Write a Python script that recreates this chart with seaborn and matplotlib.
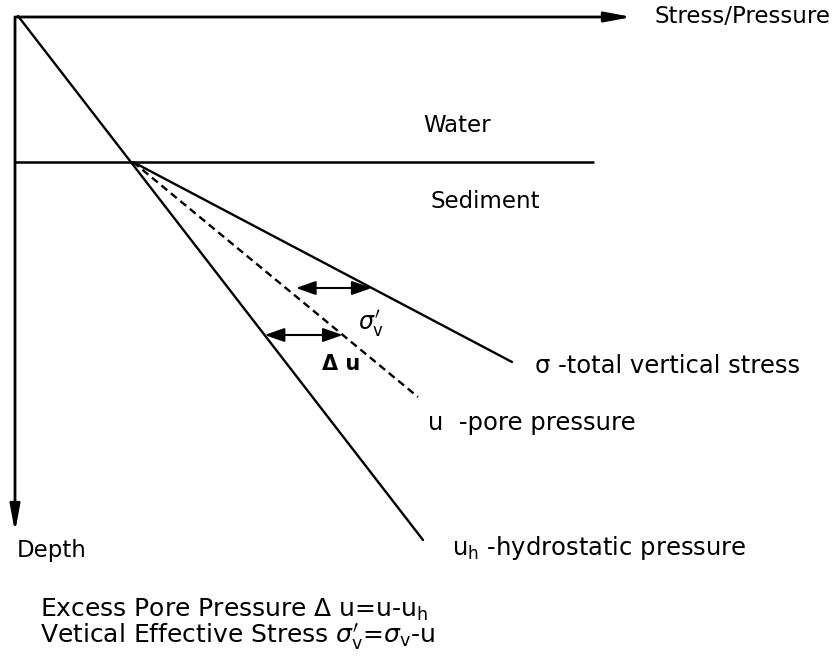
import matplotlib

matplotlib.use("Agg")
import matplotlib.pyplot as plt
import numpy as np
import pandas as pd
import seaborn as sns

# schematic coordinates (stress to the right, depth downwards)
seabed_depth = 162
seabed_stress = [15, 593]
origin = (16, 17)
stress_axis_end = 632
depth_axis_end = 532

hydro_stress = [18, 423]
hydro_depth = [16, 540]
total_stress = [133, 512]
total_depth = [162, 362]
pore_stress = [133, 418]
pore_depth = [162, 397]

# depths of the two bracket arrows
sigma_arrow_depth = 288
du_arrow_depth = 335

curve_names = ["hydrostatic", "total", "pore"]

sns.set_theme(style="white")
plt.rcParams["font.family"] = ["DejaVu Sans"]
plt.rcParams["mathtext.fontset"] = "dejavusans"
plt.rcParams["text.color"] = "black"

df = pd.DataFrame({
    "stress": hydro_stress + total_stress + pore_stress,
    "depth": hydro_depth + total_depth + pore_depth,
    "curve": [c for c in curve_names for _ in range(2)],
})

fig = plt.figure(figsize=(8.4, 6.7), dpi=100)
ax = fig.add_axes([0, 0, 1, 1])

sns.lineplot(
    data=df, x="stress", y="depth", hue="curve", style="curve",
    palette={c: "black" for c in curve_names},
    dashes={"hydrostatic": "", "total": "", "pore": (3.2, 2.0)},
    sort=False, estimator=None, legend=False, linewidth=1.7, ax=ax,
)

# water / sediment boundary
ax.plot(seabed_stress, [seabed_depth, seabed_depth], color="black", lw=1.8)

# axes with arrows
axis_style = dict(arrowstyle="-|>,head_length=1.6,head_width=0.3", color="black",
                  lw=2.0, mutation_scale=10, shrinkA=0, shrinkB=0)
ax.annotate("", xy=(stress_axis_end, origin[1]), xytext=origin, arrowprops=axis_style)
ax.annotate("", xy=(origin[0] - 1, depth_axis_end), xytext=(origin[0] - 1, origin[1]),
            arrowprops=axis_style)


# bracket arrows between the curves
def at_depth(stress, depth, d):
    return np.interp(d, depth, stress)


bracket = dict(arrowstyle="<|-|>,head_length=1.2,head_width=0.42", color="black",
               lw=1.5, mutation_scale=10, shrinkA=0, shrinkB=0)
x_left = at_depth(pore_stress, pore_depth, sigma_arrow_depth) + 10
x_right = at_depth(total_stress, total_depth, sigma_arrow_depth)
ax.annotate("", xy=(x_right, sigma_arrow_depth), xytext=(x_left, sigma_arrow_depth),
            arrowprops=bracket)
x_left = at_depth(hydro_stress, hydro_depth, du_arrow_depth)
x_right = at_depth(pore_stress, pore_depth, du_arrow_depth)
ax.annotate("", xy=(x_right, du_arrow_depth), xytext=(x_left, du_arrow_depth),
            arrowprops=bracket)

ax.text(358, 330, r"$\sigma^{\prime}_{\rm v}$", fontsize=17, va="baseline")
ax.text(322, 370, "Δ u", fontsize=15, fontweight="bold", va="baseline")

# labels
ax.text(655, 23, "Stress/Pressure", fontsize=16.5, va="baseline")
ax.text(423, 132, "Water", fontsize=16.5, va="baseline")
ax.text(430, 208, "Sediment", fontsize=16.5, va="baseline")
ax.text(535, 373, "σ -total vertical stress", fontsize=17.5, va="baseline")
ax.text(428, 430, "u  -pore pressure", fontsize=17.5, va="baseline")
ax.text(452, 555, r"u$_{\rm h}$ -hydrostatic pressure", fontsize=17.5, va="baseline")
ax.text(17, 557, "Depth", fontsize=16.5, va="baseline")
ax.text(40, 617, r"Excess Pore Pressure Δ u=u-u$_{\rm h}$", fontsize=18, va="baseline")
ax.text(40, 643, r"Vetical Effective Stress $\sigma^{\prime}_{\rm v}$=$\sigma_{\rm v}$-u",
        fontsize=18, va="baseline")

ax.set_xlim(0, 840)
ax.set_ylim(670, 0)
ax.axis("off")

fig.savefig("out.png", dpi=100)
plt.close(fig)
